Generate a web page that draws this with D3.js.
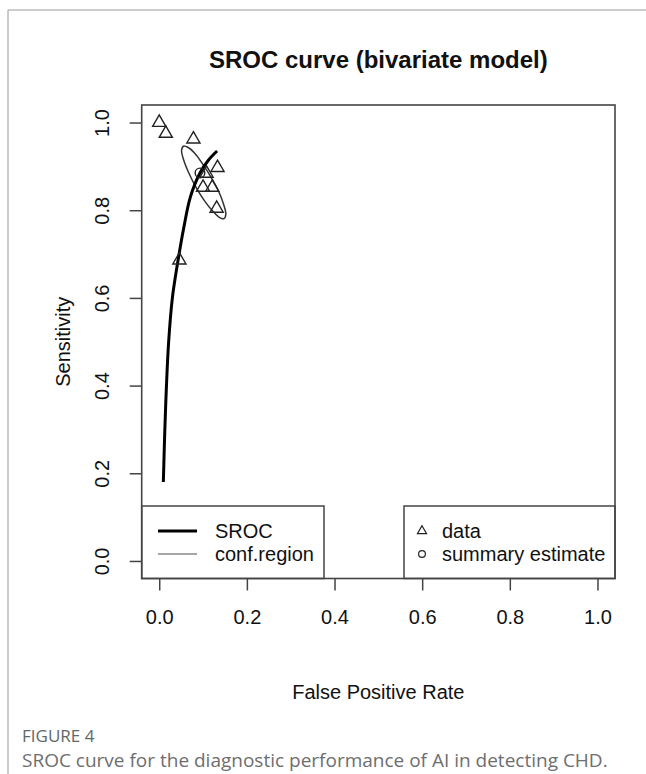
<!DOCTYPE html>
<html>
<head>
<meta charset="utf-8">
<script src="https://cdn.jsdelivr.net/npm/d3@7"></script>
<style>
  body { margin: 0; background: #fff; }
  text { font-family: "Liberation Sans", Arial, sans-serif; }
</style>
</head>
<body>
<svg id="chart" width="646" height="774"></svg>
<script>
// study points (false positive rate, sensitivity)
const studyFpr = [0.000, 0.015, 0.078, 0.133, 0.108, 0.100, 0.121, 0.131, 0.046];
const studySens = [1.000, 0.975, 0.962, 0.897, 0.884, 0.852, 0.852, 0.804, 0.686];

// summary estimate
const summaryFpr = [0.093];
const summarySens = [0.885];

// SROC curve
const srocFpr = [0.0094, 0.0128, 0.0165, 0.0215, 0.030, 0.042, 0.056, 0.071, 0.093, 0.113, 0.132];
const srocSens = [0.180, 0.300, 0.400, 0.500, 0.600, 0.680, 0.760, 0.830, 0.885, 0.915, 0.935];

// confidence region outline
const regionFpr = [0.148, 0.138, 0.122, 0.103, 0.084, 0.067, 0.056, 0.051, 0.055, 0.066, 0.082, 0.100, 0.119, 0.136, 0.147, 0.152];
const regionSens = [0.781, 0.783, 0.798, 0.822, 0.852, 0.886, 0.914, 0.936, 0.946, 0.943, 0.929, 0.904, 0.874, 0.842, 0.813, 0.791];

const ticks = [0, 0.2, 0.4, 0.6, 0.8, 1.0];

const svg = d3.select("#chart");

// figure frame
svg.append("line").attr("x1", 8).attr("x2", 646).attr("y1", 10).attr("y2", 10)
  .attr("stroke", "#999").attr("stroke-width", 1);
svg.append("line").attr("x1", 8).attr("x2", 8).attr("y1", 10).attr("y2", 774)
  .attr("stroke", "#999").attr("stroke-width", 1);

const box = { left: 141.7, right: 615, top: 105, bottom: 578.5 };

const x = d3.scaleLinear().domain([-0.04, 1.04]).range([box.left, box.right]);
const y = d3.scaleLinear().domain([-0.04, 1.04]).range([box.bottom, box.top]);

// title
svg.append("text")
  .attr("x", (box.left + box.right) / 2)
  .attr("y", 68)
  .attr("text-anchor", "middle")
  .style("font-size", "24px")
  .style("font-weight", "bold")
  .attr("fill", "#111")
  .text("SROC curve (bivariate model)");

// X-Axis
const gx = svg.append("g")
  .attr("transform", `translate(0,${box.bottom})`)
  .call(d3.axisBottom(x).tickValues(ticks).tickFormat(d3.format(".1f")).tickSize(12));
gx.select(".domain").remove();
gx.selectAll("line").attr("stroke", "#444").attr("stroke-width", 1.5);
gx.selectAll("text")
  .attr("y", 38)
  .attr("dy", "0.35em")
  .attr("fill", "#111")
  .style("font-size", "20px")
  .style("font-family", "'Liberation Sans', Arial, sans-serif");

// Y-Axis
const gy = svg.append("g")
  .attr("transform", `translate(${box.left},0)`)
  .call(d3.axisLeft(y).tickValues(ticks).tickFormat(d3.format(".1f")).tickSize(12));
gy.select(".domain").remove();
gy.selectAll("line").attr("stroke", "#444").attr("stroke-width", 1.5);
gy.selectAll("text")
  .attr("x", 0)
  .attr("dy", "0.35em")
  .attr("transform", "translate(-40,0) rotate(-90)")
  .attr("text-anchor", "middle")
  .attr("fill", "#111")
  .style("font-size", "20px")
  .style("font-family", "'Liberation Sans', Arial, sans-serif");

// axis labels
svg.append("text")
  .attr("x", (box.left + box.right) / 2)
  .attr("y", 692)
  .attr("dy", "0.35em")
  .attr("text-anchor", "middle")
  .style("font-size", "20px")
  .attr("fill", "#111")
  .text("False Positive Rate");

svg.append("text")
  .attr("transform", `translate(63,${(box.top + box.bottom) / 2}) rotate(-90)`)
  .attr("dy", "0.35em")
  .attr("text-anchor", "middle")
  .style("font-size", "20px")
  .attr("fill", "#111")
  .text("Sensitivity");

// confidence region
const region = regionFpr.map((d, i) => [d, regionSens[i]]);
svg.append("path")
  .datum(region)
  .attr("fill", "none")
  .attr("stroke", "#333")
  .attr("stroke-width", 1.5)
  .attr("d", d3.line().x((d) => x(d[0])).y((d) => y(d[1])).curve(d3.curveCatmullRomClosed));

// SROC curve
const sroc = srocFpr.map((d, i) => [d, srocSens[i]]);
svg.append("path")
  .datum(sroc)
  .attr("fill", "none")
  .attr("stroke", "#000")
  .attr("stroke-width", 3)
  .attr("d", d3.line().x((d) => x(d[0])).y((d) => y(d[1])).curve(d3.curveCatmullRom));

// study triangles
const tri = d3.symbol().type(d3.symbolTriangle).size(75);
svg.append("g")
  .selectAll("path")
  .data(studyFpr.map((d, i) => [d, studySens[i]]))
  .enter()
  .append("path")
  .attr("transform", (d) => `translate(${x(d[0])},${y(d[1])})`)
  .attr("d", tri)
  .attr("fill", "none")
  .attr("stroke", "#222")
  .attr("stroke-width", 1.4);

// summary estimate
svg.append("g")
  .selectAll("circle")
  .data(summaryFpr.map((d, i) => [d, summarySens[i]]))
  .enter()
  .append("circle")
  .attr("cx", (d) => x(d[0]))
  .attr("cy", (d) => y(d[1]))
  .attr("r", 4.8)
  .attr("fill", "none")
  .attr("stroke", "#222")
  .attr("stroke-width", 1.4);

// legends
const legTop = 506;
svg.append("rect")
  .attr("x", box.left).attr("y", legTop)
  .attr("width", 324 - box.left).attr("height", box.bottom - legTop)
  .attr("fill", "#fff").attr("stroke", "#444").attr("stroke-width", 1.5);
svg.append("rect")
  .attr("x", 404).attr("y", legTop)
  .attr("width", box.right - 404).attr("height", box.bottom - legTop)
  .attr("fill", "#fff").attr("stroke", "#444").attr("stroke-width", 1.5);

svg.append("line").attr("x1", 158).attr("x2", 197).attr("y1", 531).attr("y2", 531)
  .attr("stroke", "#000").attr("stroke-width", 3);
svg.append("line").attr("x1", 158).attr("x2", 197).attr("y1", 554).attr("y2", 554)
  .attr("stroke", "#888").attr("stroke-width", 1.5);
svg.append("text").attr("x", 215).attr("y", 531).attr("dy", "0.35em")
  .style("font-size", "20px").attr("fill", "#111").text("SROC");
svg.append("text").attr("x", 215).attr("y", 554).attr("dy", "0.35em")
  .style("font-size", "20px").attr("fill", "#111").text("conf.region");

svg.append("path")
  .attr("transform", "translate(422,531)")
  .attr("d", d3.symbol().type(d3.symbolTriangle).size(36))
  .attr("fill", "none").attr("stroke", "#222").attr("stroke-width", 1.2);
svg.append("circle").attr("cx", 422).attr("cy", 554).attr("r", 3.4)
  .attr("fill", "none").attr("stroke", "#222").attr("stroke-width", 1.2);
svg.append("text").attr("x", 442).attr("y", 531).attr("dy", "0.35em")
  .style("font-size", "20px").attr("fill", "#111").text("data");
svg.append("text").attr("x", 442).attr("y", 554).attr("dy", "0.35em")
  .style("font-size", "20px").attr("fill", "#111").text("summary estimate");

// plot box
svg.append("rect")
  .attr("x", box.left).attr("y", box.top)
  .attr("width", box.right - box.left).attr("height", box.bottom - box.top)
  .attr("fill", "none").attr("stroke", "#444").attr("stroke-width", 1.6);

// caption
svg.append("text")
  .attr("x", 22).attr("y", 742)
  .style("font-family", "'Open Sans', sans-serif")
  .style("font-size", "17px")
  .attr("fill", "#5f6868")
  .text("FIGURE 4");
svg.append("text")
  .attr("x", 22).attr("y", 767)
  .style("font-family", "'Open Sans', sans-serif")
  .style("font-size", "19px")
  .attr("fill", "#6e6e6e")
  .text("SROC curve for the diagnostic performance of AI in detecting CHD.");
</script>
</body>
</html>
